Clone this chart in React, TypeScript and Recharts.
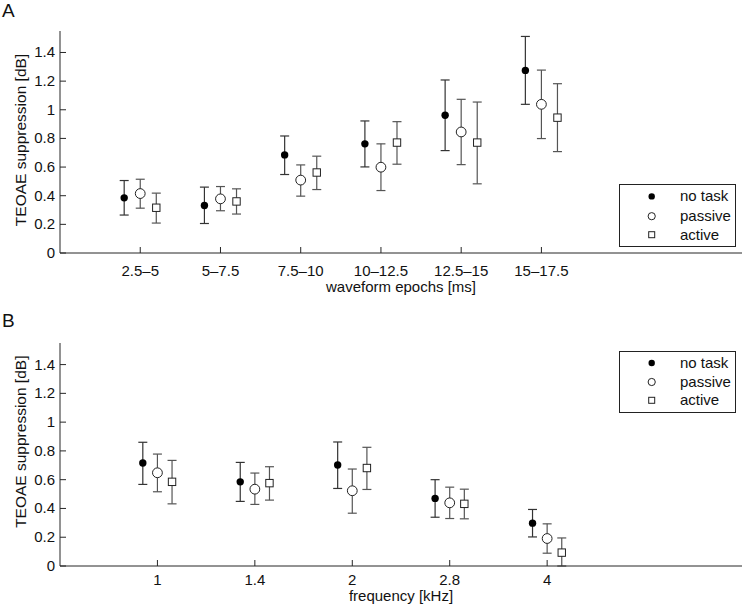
import React from 'react';
import { ScatterChart, Scatter, XAxis, YAxis, ErrorBar, Legend, Customized } from 'recharts';

const FONT = '"Liberation Sans", Arial, Helvetica, sans-serif';
const AXIS_COLOR = '#262626';
const TEXT_COLOR = '#111111';

// ---------- Panel A: waveform epochs ----------
const epochCategories = ['2.5–5', '5–7.5', '7.5–10', '10–12.5', '12.5–15', '15–17.5'];
const epochNoTaskMean = [0.385, 0.332, 0.685, 0.762, 0.962, 1.275];
const epochNoTaskLow = [0.265, 0.206, 0.548, 0.601, 0.715, 1.038];
const epochNoTaskHigh = [0.506, 0.46, 0.817, 0.922, 1.208, 1.512];
const epochPassiveMean = [0.415, 0.378, 0.509, 0.599, 0.845, 1.038];
const epochPassiveLow = [0.313, 0.295, 0.397, 0.436, 0.617, 0.799];
const epochPassiveHigh = [0.515, 0.464, 0.615, 0.762, 1.073, 1.277];
const epochActiveMean = [0.316, 0.36, 0.562, 0.771, 0.771, 0.945];
const epochActiveLow = [0.209, 0.272, 0.443, 0.62, 0.483, 0.708];
const epochActiveHigh = [0.418, 0.448, 0.676, 0.917, 1.054, 1.182];

// ---------- Panel B: frequency ----------
const freqCategories = ['1', '1.4', '2', '2.8', '4'];
const freqNoTaskMean = [0.716, 0.585, 0.702, 0.47, 0.298];
const freqNoTaskLow = [0.567, 0.449, 0.539, 0.339, 0.202];
const freqNoTaskHigh = [0.86, 0.72, 0.862, 0.6, 0.393];
const freqPassiveMean = [0.648, 0.534, 0.523, 0.439, 0.191];
const freqPassiveLow = [0.516, 0.428, 0.367, 0.33, 0.089];
const freqPassiveHigh = [0.778, 0.646, 0.674, 0.548, 0.293];
const freqActiveMean = [0.585, 0.576, 0.681, 0.432, 0.093];
const freqActiveLow = [0.432, 0.458, 0.532, 0.328, 0.0];
const freqActiveHigh = [0.734, 0.69, 0.825, 0.534, 0.195];

const seriesNames = ['no task', 'passive', 'active'];
const yTicks = [0, 0.2, 0.4, 0.6, 0.8, 1, 1.2, 1.4];
const yTitle = 'TEOAE suppression [dB]';

type Pt = { x: number; y: number; err: [number, number] };

function buildSeries(means: number[], lo: number[], hi: number[], offset: number): Pt[] {
  return means.map((m, i) => ({ x: i + 1 + offset, y: m, err: [m - lo[i], hi[i] - m] }));
}

const FilledDot = (p: any) => <circle cx={p.cx} cy={p.cy} r={3.7} fill="#000" />;
const OpenCircle = (p: any) => (
  <circle cx={p.cx} cy={p.cy} r={4.9} fill="#fff" stroke="#222" strokeWidth={1} />
);
const OpenSquare = (p: any) => (
  <rect x={p.cx - 3.7} y={p.cy - 3.7} width={7.4} height={7.4} fill="#fff" stroke="#222" strokeWidth={1} />
);

const fmtY = (v: number) => String(Number(v.toFixed(1)));

const LegendBox = ({ h, rows }: { h: number; rows: number[] }) => (
  <svg width={117} height={h + 1} style={{ display: 'block' }}>
    <rect x={0.5} y={0.5} width={116} height={h} fill="#fff" stroke="#222" strokeWidth={1} />
    <circle cx={32.7} cy={rows[0]} r={3.2} fill="#000" />
    <circle cx={32.7} cy={rows[1]} r={3.6} fill="#fff" stroke="#222" strokeWidth={1} />
    <rect x={29.7} y={rows[2] - 3} width={6} height={6} fill="#fff" stroke="#222" strokeWidth={1} />
    {seriesNames.map((n, i) => (
      <text key={n} x={61} y={rows[i] + 5} fontSize={15} fontFamily={FONT} fill={TEXT_COLOR}>
        {n}
      </text>
    ))}
  </svg>
);

type PanelProps = {
  categories: string[];
  noTask: Pt[];
  passive: Pt[];
  active: Pt[];
  xMax: number;
  height: number;
  top: number;
  xAxisHeight: number;
  tickDy: number;
  xTitle: string;
  xTitleDy: number;
  letter: string;
  letterY: number;
  yTitleCy: number;
  legendTop: number;
  legendH: number;
  legendRows: number[];
};

function Panel(props: PanelProps) {
  const {
    categories, noTask, passive, active, xMax, height, top, xAxisHeight, tickDy,
    xTitle, xTitleDy, letter, letterY, yTitleCy, legendTop, legendH, legendRows,
  } = props;
  const plotBottom = height - xAxisHeight;
  const xTicks = categories.map((_, i) => i + 1);

  const XTick = (tp: any) => {
    const { x, y, payload } = tp;
    const label = categories[Math.round(payload.value) - 1];
    return (
      <g>
        <line x1={x} y1={y} x2={x} y2={y - 6} stroke={AXIS_COLOR} strokeWidth={1} />
        <text x={x} y={y + tickDy} textAnchor="middle" fontSize={15} fontFamily={FONT} fill={TEXT_COLOR}>
          {label}
        </text>
      </g>
    );
  };
  const YTick = (tp: any) => {
    const { x, y, payload } = tp;
    return (
      <g>
        <line x1={x} y1={y} x2={x + 6} y2={y} stroke={AXIS_COLOR} strokeWidth={1} />
        <text x={x - 5} y={y + 5} textAnchor="end" fontSize={15} fontFamily={FONT} fill={TEXT_COLOR}>
          {fmtY(payload.value)}
        </text>
      </g>
    );
  };

  return (
    <ScatterChart width={745} height={height} margin={{ top, right: 3, bottom: 0, left: 0 }}>
      <XAxis
        type="number"
        dataKey="x"
        domain={[0, xMax]}
        ticks={xTicks}
        interval={0}
        allowDataOverflow
        height={xAxisHeight}
        axisLine={{ stroke: AXIS_COLOR, strokeWidth: 1 }}
        tickLine={false}
        tickSize={0}
        tickMargin={0}
        tick={XTick}
      />
      <YAxis
        type="number"
        dataKey="y"
        domain={[0, 1.55]}
        ticks={yTicks}
        interval={0}
        allowDataOverflow
        width={60}
        axisLine={{ stroke: AXIS_COLOR, strokeWidth: 1 }}
        tickLine={false}
        tickSize={0}
        tickMargin={0}
        tick={YTick}
      />
      <Scatter name={seriesNames[0]} data={noTask} isAnimationActive={false} shape={FilledDot}>
        <ErrorBar dataKey="err" direction="y" width={4.5} stroke="#333" strokeWidth={1.2} isAnimationActive={false} />
      </Scatter>
      <Scatter name={seriesNames[1]} data={passive} isAnimationActive={false} shape={OpenCircle}>
        <ErrorBar dataKey="err" direction="y" width={4.5} stroke="#555" strokeWidth={1.2} isAnimationActive={false} />
      </Scatter>
      <Scatter name={seriesNames[2]} data={active} isAnimationActive={false} shape={OpenSquare}>
        <ErrorBar dataKey="err" direction="y" width={4.5} stroke="#555" strokeWidth={1.2} isAnimationActive={false} />
      </Scatter>
      <Legend
        layout="horizontal"
        verticalAlign="middle"
        align="center"
        wrapperStyle={{ left: 619, top: legendTop, width: 117, height: legendH + 1 }}
        content={() => <LegendBox h={legendH} rows={legendRows} />}
      />
      <Customized
        component={() => (
          <g fontFamily={FONT} fill={TEXT_COLOR}>
            <text x={2} y={letterY} fontSize={19}>{letter}</text>
            <text x={401} y={plotBottom + xTitleDy} textAnchor="middle" fontSize={15}>{xTitle}</text>
            <text
              x={26}
              y={yTitleCy}
              transform={`rotate(-90 26 ${yTitleCy})`}
              textAnchor="middle"
              fontSize={15.5}
            >
              {yTitle}
            </text>
          </g>
        )}
      />
    </ScatterChart>
  );
}

export default function App() {
  const aNo = buildSeries(epochNoTaskMean, epochNoTaskLow, epochNoTaskHigh, -0.2);
  const aPa = buildSeries(epochPassiveMean, epochPassiveLow, epochPassiveHigh, 0);
  const aAc = buildSeries(epochActiveMean, epochActiveLow, epochActiveHigh, 0.2);
  const bNo = buildSeries(freqNoTaskMean, freqNoTaskLow, freqNoTaskHigh, -0.15);
  const bPa = buildSeries(freqPassiveMean, freqPassiveLow, freqPassiveHigh, 0);
  const bAc = buildSeries(freqActiveMean, freqActiveLow, freqActiveHigh, 0.15);
  return (
    <div style={{ position: 'absolute', left: 0, top: 0, width: 745, height: 608, background: '#fff' }}>
      <div style={{ position: 'absolute', left: 0, top: 0 }}>
        <Panel
          categories={epochCategories}
          noTask={aNo}
          passive={aPa}
          active={aAc}
          xMax={8.5}
          height={300}
          top={31}
          xAxisHeight={47}
          tickDy={23}
          xTitle="waveform epochs [ms]"
          xTitleDy={38.5}
          letter="A"
          letterY={17}
          yTitleCy={140}
          legendTop={184}
          legendH={62}
          legendRows={[12.4, 32.2, 50.7]}
        />
      </div>
      <div style={{ position: 'absolute', left: 0, top: 300 }}>
        <Panel
          categories={freqCategories}
          noTask={bNo}
          passive={bPa}
          active={bAc}
          xMax={7}
          height={308}
          top={43}
          xAxisHeight={42}
          tickDy={19}
          xTitle="frequency [kHz]"
          xTitleDy={34.5}
          letter="B"
          letterY={27}
          yTitleCy={141.7}
          legendTop={51}
          legendH={61}
          legendRows={[12, 31, 49.3]}
        />
      </div>
    </div>
  );
}
